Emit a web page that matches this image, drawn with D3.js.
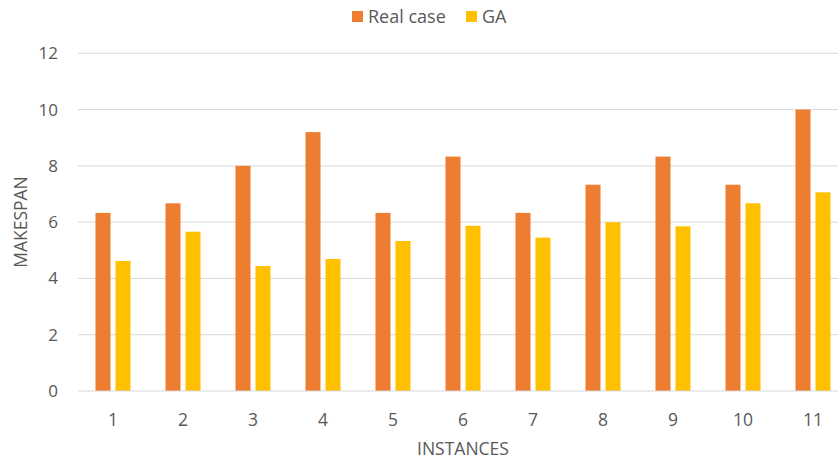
<!DOCTYPE html>
<html><head><meta charset="utf-8">
<script src="https://cdn.jsdelivr.net/npm/d3@7"></script>
<style>body{margin:0;background:#fff}svg{display:block}</style>
</head><body>
<svg id="c" width="838" height="461"></svg>
<script>
const categories = ["1","2","3","4","5","6","7","8","9","10","11"];
const seriesNames = ["Real case","GA"];
const realCase = [6.33,6.67,8.0,9.2,6.33,8.33,6.33,7.33,8.33,7.33,10.0];
const ga = [4.62,5.66,4.44,4.69,5.33,5.87,5.45,6.0,5.85,6.67,7.06];
const yTicks = [0,2,4,6,8,10,12];
const colors = ["#ED7D31","#FFC000"];

(function(){
const svg = d3.select("#c");
const font = "'Open Sans', sans-serif";
const textColor = "#595959";
const mLeft = 78, mRight = 848, mTop = 53.3, mBottom = 391;

const x0 = d3.scaleBand().domain(categories).range([mLeft, mRight]);
const bw = x0.bandwidth();
const x1 = d3.scaleBand().domain(seriesNames).range([bw/2-17.5, bw/2+17.5]).paddingInner(0.25);
const y = d3.scaleLinear().domain([0,12]).range([mBottom, mTop]);

// gridlines
svg.append("g").selectAll("line").data(yTicks.filter(d=>d>0)).join("line")
  .attr("x1", mLeft).attr("x2", 838)
  .attr("y1", d=>y(d)).attr("y2", d=>y(d))
  .attr("stroke", "#D9D9D9").attr("stroke-width", 1);

// y tick labels
svg.append("g").selectAll("text").data(yTicks).join("text")
  .attr("x", 58).attr("y", d=>y(d)).attr("dy","0.35em")
  .attr("text-anchor","end").attr("font-family",font).attr("font-size",17)
  .attr("fill",textColor).text(d=>d);

// bars
const data = categories.map((c,i)=>({c, vals:[realCase[i], ga[i]]}));
const g = svg.append("g").selectAll("g").data(data).join("g")
  .attr("transform", d=>`translate(${x0(d.c)},0)`);
g.selectAll("rect").data(d=>d.vals.map((v,j)=>({s:seriesNames[j], v, j}))).join("rect")
  .attr("x", d=>x1(d.s)).attr("width", x1.bandwidth())
  .attr("y", d=>y(d.v)).attr("height", d=>y(0)-y(d.v))
  .attr("fill", d=>colors[d.j]);

// x axis line
svg.append("line").attr("x1", mLeft).attr("x2", 838).attr("y1", mBottom).attr("y2", mBottom)
  .attr("stroke","#D9D9D9").attr("stroke-width",1);

// x tick labels
svg.append("g").selectAll("text").data(categories).join("text")
  .attr("x", d=>x0(d)+bw/2).attr("y", 419.5).attr("dy","0.35em")
  .attr("text-anchor","middle").attr("font-family",font).attr("font-size",17.5)
  .attr("fill",textColor).text(d=>d);

// axis titles
svg.append("text").attr("x", 463).attr("y", 449).attr("dy","0.35em")
  .attr("text-anchor","middle").attr("font-family",font).attr("font-size",17.5)
  .attr("fill",textColor).text("INSTANCES");
svg.append("text").attr("transform","translate(21,222) rotate(-90)").attr("dy","0.35em")
  .attr("text-anchor","middle").attr("font-family",font).attr("font-size",17.5)
  .attr("fill",textColor).text("MAKESPAN");

// legend
const legendItems = [{name:"Real case", sx:352, tx:368},{name:"GA", sx:466, tx:482}];
const lg = svg.append("g");
lg.selectAll("rect").data(legendItems).join("rect")
  .attr("x", d=>d.sx).attr("y", 11).attr("width", 11).attr("height", 11)
  .attr("fill", (d,i)=>colors[i]);
lg.selectAll("text").data(legendItems).join("text")
  .attr("x", d=>d.tx).attr("y", 16.5).attr("dy","0.35em")
  .attr("font-family",font).attr("font-size",18).attr("fill",textColor).text(d=>d.name);
})();
</script>
</body></html>
